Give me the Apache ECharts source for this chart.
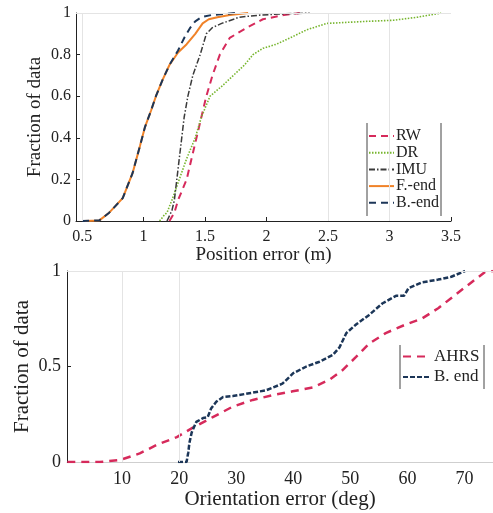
<!DOCTYPE html>
<html>
<head>
<meta charset="utf-8">
<script src="https://cdn.jsdelivr.net/npm/echarts@6/dist/echarts.min.js"></script>
<style>
html,body{margin:0;padding:0;background:#fff;}
#c{width:493px;height:513px;}
</style>
</head>
<body>
<div id="c"></div>
<script>
// ---- Top chart: position error CDFs ----
var posTicks = [0.5, 1, 1.5, 2, 2.5, 3, 3.5];
var rwX = [1.21, 1.25, 1.28, 1.35, 1.39, 1.43, 1.47, 1.51, 1.56, 1.62, 1.70, 1.84, 1.97, 2.14, 2.27];
var rwY = [0, 0.04, 0.1, 0.2, 0.3, 0.4, 0.5, 0.6, 0.7, 0.8, 0.88, 0.93, 0.97, 0.99, 1.0];
var drX = [1.13, 1.17, 1.19, 1.23, 1.29, 1.35, 1.42, 1.47, 1.54, 1.64, 1.73, 1.82, 1.89, 1.97, 2.08, 2.19, 2.33, 2.49, 2.82, 3.03, 3.23, 3.42];
var drY = [0, 0.03, 0.04, 0.1, 0.2, 0.3, 0.4, 0.5, 0.6, 0.65, 0.7, 0.75, 0.8, 0.83, 0.85, 0.88, 0.92, 0.95, 0.96, 0.965, 0.98, 1.0];
var imuX = [1.19, 1.23, 1.25, 1.27, 1.29, 1.31, 1.33, 1.36, 1.40, 1.46, 1.51, 1.56, 1.635, 1.78, 1.95, 2.1, 2.35];
var imuY = [0, 0.05, 0.1, 0.2, 0.3, 0.4, 0.5, 0.6, 0.7, 0.8, 0.9, 0.93, 0.95, 0.98, 0.99, 0.995, 1.0];
var fendX = [0.52, 0.64, 0.72, 0.83, 0.91, 0.97, 1.01, 1.06, 1.10, 1.155, 1.21, 1.28, 1.35, 1.42, 1.48, 1.53, 1.6, 1.7, 1.85];
var fendY = [0, 0.003, 0.04, 0.11, 0.23, 0.36, 0.45, 0.53, 0.60, 0.68, 0.75, 0.81, 0.85, 0.90, 0.95, 0.97, 0.98, 0.99, 1.0];
var bendX = [0.5, 0.64, 0.72, 0.83, 0.91, 0.97, 1.01, 1.06, 1.10, 1.155, 1.21, 1.28, 1.33, 1.38, 1.42, 1.47, 1.55, 1.65, 1.75];
var bendY = [0, 0.003, 0.04, 0.11, 0.23, 0.36, 0.45, 0.53, 0.60, 0.68, 0.75, 0.82, 0.88, 0.93, 0.96, 0.98, 0.99, 0.995, 1.0];
var posGridX = [0.5, 2.5, 3];

// ---- Bottom chart: orientation error CDFs ----
var oriTicks = [10, 20, 30, 40, 50, 60, 70];
var ahrsX = [0.4, 6.1, 9.6, 13.1, 16.1, 19.6, 22.4, 25.9, 29.4, 32.9, 36.4, 39.9, 43.4, 46.3, 48.6, 51.0, 53.3, 56.2, 59.7, 62.5, 65.4, 68.4, 71.2, 73.6, 75];
var ahrsY = [0, 0, 0.01, 0.045, 0.09, 0.13, 0.18, 0.235, 0.29, 0.325, 0.35, 0.37, 0.39, 0.43, 0.48, 0.55, 0.62, 0.675, 0.72, 0.75, 0.805, 0.875, 0.94, 0.995, 1.0];
var bendOX = [19.8, 21.3, 21.6, 21.8, 22.2, 23.0, 24.2, 25.0, 25.6, 26.5, 27.7, 29.4, 32.3, 35.2, 38.1, 40.0, 42.3, 44.6, 46.9, 48.1, 49.3, 51.0, 53.3, 55.6, 58.0, 59.4, 60.2, 62.5, 65.4, 67.7, 70.1];
var bendOY = [0, 0, 0.05, 0.10, 0.155, 0.21, 0.23, 0.235, 0.28, 0.315, 0.34, 0.345, 0.36, 0.375, 0.41, 0.465, 0.50, 0.525, 0.56, 0.60, 0.675, 0.72, 0.77, 0.83, 0.87, 0.87, 0.91, 0.94, 0.955, 0.97, 1.0];
var oriGridX = [10, 20];

function pairs(xs, ys) { return xs.map(function (x, i) { return [x, ys[i]]; }); }

var FONT = 'Liberation Serif';
var TXT = '#222';
var GRIDC = '#e4e4e4';

function lineSeries(name, xs, ys, color, width, dash, axisIdx) {
  return {
    name: name, type: 'line', xAxisIndex: axisIdx, yAxisIndex: axisIdx,
    data: pairs(xs, ys), showSymbol: false, symbol: 'none', animation: false,
    lineStyle: { color: color, width: width, type: dash }, itemStyle: { color: color }
  };
}

function gridMarks(axisIdx, xs) {
  var d = xs.map(function (v) { return { xAxis: v }; });
  d.push({ yAxis: 1 });
  return {
    type: 'line', xAxisIndex: axisIdx, yAxisIndex: axisIdx, data: [], silent: true, z: 1,
    markLine: { silent: true, symbol: 'none', label: { show: false }, animation: false,
      lineStyle: { color: GRIDC, width: 1, type: 'solid' }, data: d }
  };
}

var crimson = '#d62a5b', green = '#77b52e', imuC = '#3a3a3a', orange = '#f08228', navy = '#1c3658';

var option = {
  backgroundColor: '#fff',
  animation: false,
  textStyle: { fontFamily: FONT, color: TXT },
  grid: [
    { left: 76, top: 13, width: 375, height: 208 },
    { left: 67, top: 271, width: 428, height: 191 }
  ],
  xAxis: [
    { gridIndex: 0, type: 'value', min: 0.45, max: 3.5,
      name: 'Position error (m)', nameLocation: 'middle', nameGap: 23,
      nameTextStyle: { fontFamily: FONT, fontSize: 19, color: TXT },
      axisLine: { lineStyle: { color: '#222', width: 1 } },
      axisTick: { inside: true, length: 4, customValues: posTicks, lineStyle: { color: '#222' } },
      axisLabel: { customValues: posTicks, margin: 8, fontFamily: FONT, fontSize: 16, color: TXT },
      splitLine: { show: false } },
    { gridIndex: 1, type: 'value', min: 0.35, max: 75,
      name: 'Orientation error (deg)', nameLocation: 'middle', nameGap: 23,
      nameTextStyle: { fontFamily: FONT, fontSize: 21, color: TXT },
      axisLine: { lineStyle: { color: '#cfcfcf', width: 1 } },
      axisTick: { show: false, customValues: oriTicks },
      axisLabel: { customValues: oriTicks, margin: 8, fontFamily: FONT, fontSize: 18, color: TXT },
      splitLine: { show: false } }
  ],
  yAxis: [
    { gridIndex: 0, type: 'value', min: 0, max: 1, interval: 0.2,
      name: 'Fraction of data', nameLocation: 'middle', nameGap: 31, nameMoveOverlap: false,
      nameTextStyle: { fontFamily: FONT, fontSize: 19, color: TXT },
      axisLine: { show: true, lineStyle: { color: '#222', width: 1 } },
      axisTick: { show: true, inside: true, length: 4, lineStyle: { color: '#222' } },
      axisLabel: { margin: 5, fontFamily: FONT, fontSize: 16, color: TXT },
      splitLine: { show: false } },
    { gridIndex: 1, type: 'value', min: 0, max: 1, interval: 0.5,
      name: 'Fraction of data', nameLocation: 'middle', nameGap: 34, nameMoveOverlap: false,
      nameTextStyle: { fontFamily: FONT, fontSize: 21, color: TXT },
      axisLine: { show: true, lineStyle: { color: '#222', width: 1 } },
      axisTick: { show: true, inside: true, length: 4, lineStyle: { color: '#222' } },
      axisLabel: { margin: 6, fontFamily: FONT, fontSize: 18, color: TXT },
      splitLine: { show: false } }
  ],
  legend: [
    { data: ['RW', 'DR', 'IMU', 'F.-end', 'B.-end'], orient: 'vertical', left: 368, top: 128,
      itemWidth: 25, itemHeight: 12, itemGap: 0.7, backgroundColor: '#fff', padding: 0,
      itemStyle: { opacity: 0, borderWidth: 0 },
      textStyle: { fontFamily: FONT, fontSize: 16, lineHeight: 12, color: TXT, padding: [0, 0, 0, -3] } },
    { data: ['AHRS', 'B. end'], orient: 'vertical', left: 402, top: 348,
      itemWidth: 28, itemHeight: 14, itemGap: 3.5, backgroundColor: '#fff', padding: 0,
      itemStyle: { opacity: 0, borderWidth: 0 },
      textStyle: { fontFamily: FONT, fontSize: 17, lineHeight: 14, color: TXT, padding: [0, 0, 0, -2] } }
  ],
  graphic: [
    { type: 'line', shape: { x1: 367, y1: 123, x2: 367, y2: 216 }, style: { stroke: '#444', lineWidth: 1 }, z: 100 },
    { type: 'line', shape: { x1: 441, y1: 123, x2: 441, y2: 216 }, style: { stroke: '#444', lineWidth: 1 }, z: 100 },
    { type: 'line', shape: { x1: 400, y1: 345, x2: 400, y2: 389 }, style: { stroke: '#444', lineWidth: 1 }, z: 100 },
    { type: 'line', shape: { x1: 484, y1: 345, x2: 484, y2: 389 }, style: { stroke: '#444', lineWidth: 1 }, z: 100 }
  ],
  series: [
    gridMarks(0, posGridX),
    gridMarks(1, oriGridX),
    lineSeries('RW', rwX, rwY, crimson, 2, [7, 5], 0),
    lineSeries('DR', drX, drY, green, 1.6, [1.5, 1.5], 0),
    lineSeries('IMU', imuX, imuY, imuC, 1.5, [6, 2, 1.5, 2], 0),
    lineSeries('F.-end', fendX, fendY, orange, 2, 'solid', 0),
    lineSeries('B.-end', bendX, bendY, navy, 2, [7, 5], 0),
    lineSeries('AHRS', ahrsX, ahrsY, crimson, 2.5, [8, 6], 1),
    lineSeries('B. end', bendOX, bendOY, navy, 2.5, [5, 2], 1)
  ]
};

var chart = echarts.init(document.getElementById('c'), null, { renderer: 'canvas' });
chart.setOption(option);
</script>
</body>
</html>
